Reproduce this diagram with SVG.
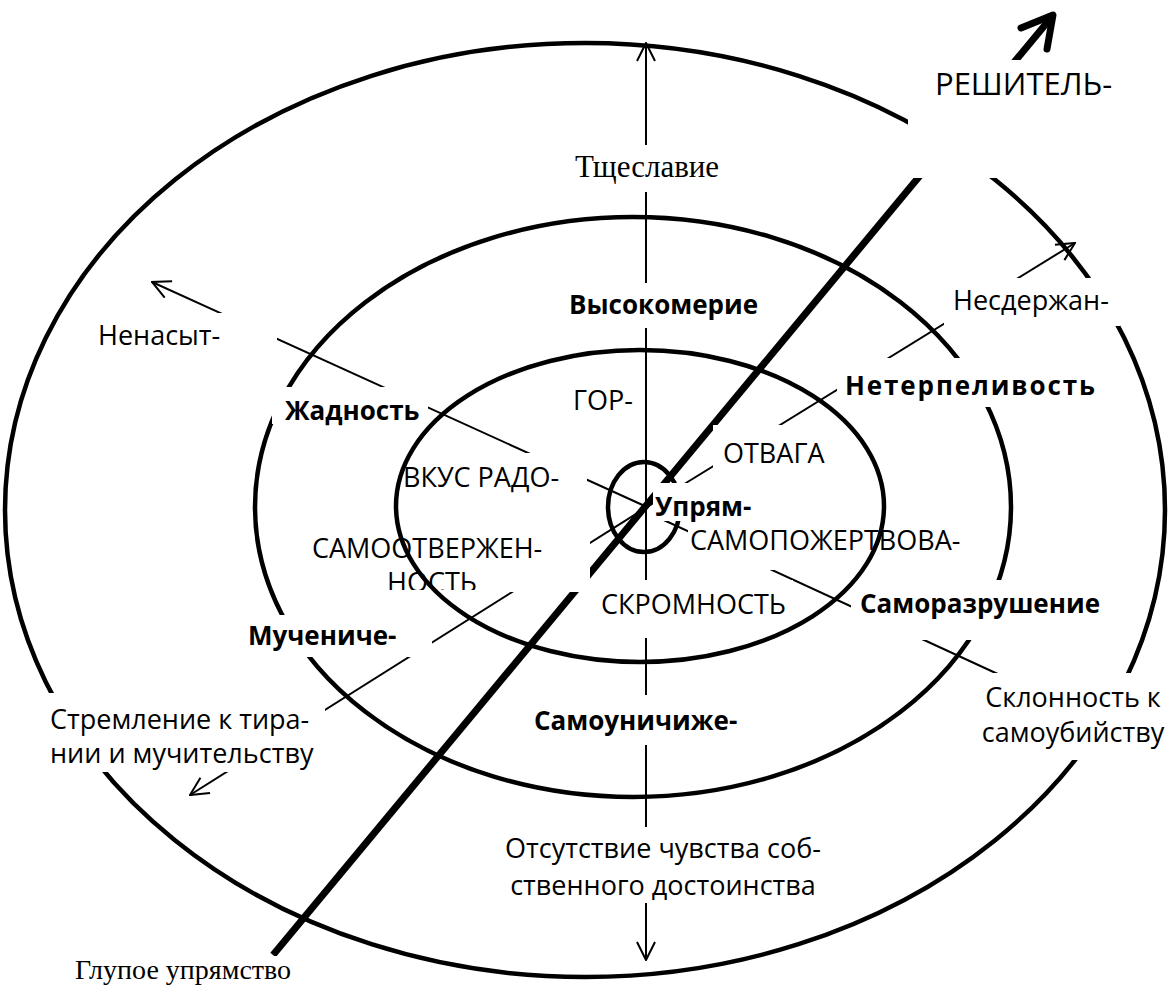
<svg xmlns="http://www.w3.org/2000/svg" width="1173" height="994" viewBox="0 0 1173 994">
<style>
.ring{fill:none;stroke:#000;stroke-width:4.5}
.thin{fill:none;stroke:#000;stroke-width:2}
.bx{fill:#fff;stroke:none}
.s{font-family:"Open Sans","Noto Sans","Liberation Sans",sans-serif;font-size:27px;fill:#000}
.b{font-family:"Open Sans","Noto Sans","Liberation Sans",sans-serif;font-size:26px;font-weight:bold;fill:#000}
.r{font-family:"Liberation Serif","Times New Roman",serif;font-size:30px;fill:#000}
</style>
<defs>
<marker id="arr" markerUnits="userSpaceOnUse" viewBox="0 0 20 20" markerWidth="20" markerHeight="20" refX="19" refY="10" orient="auto-start-reverse"><path d="M1,1 L19,10 L1,19" fill="none" stroke="#000" stroke-width="2"/></marker>
<clipPath id="clipSam"><rect x="300" y="530" width="290" height="60"/></clipPath>
</defs>
<rect width="1173" height="994" fill="#fff"/>
<g id="rings">
<ellipse class="ring" cx="585" cy="510" rx="580" ry="467"/>
<ellipse class="ring" cx="633" cy="507" rx="378" ry="290"/>
</g>
<g id="connectors">
<line class="thin" x1="646" y1="960" x2="646" y2="43" marker-start="url(#arr)" marker-end="url(#arr)"/>
<line class="thin" x1="647" y1="507" x2="152" y2="282" marker-end="url(#arr)"/>
<line class="thin" x1="647" y1="507" x2="1075" y2="243" marker-end="url(#arr)"/>
<line class="thin" x1="647" y1="507" x2="190" y2="795" marker-end="url(#arr)"/>
<line class="thin" x1="655" y1="516" x2="1000" y2="675"/>
<line x1="273" y1="955" x2="1050" y2="19" stroke="#000" stroke-width="7"/>
<path d="M1021,28 L1053,15 L1047,49" fill="none" stroke="#000" stroke-width="7" stroke-linecap="round" stroke-linejoin="round"/>
<ellipse class="ring" cx="644" cy="507" rx="36" ry="45"/>
</g>
<g id="n-reshit"><rect class="bx" x="908" y="60" width="227" height="118"/><text class="s" x="935" y="95" style="font-size:31px">РЕШИТЕЛЬ-</text></g>
<g id="n-tshcheslavie"><rect class="bx" x="568" y="145" width="162" height="47"/><text class="r" x="575" y="177" style="font-size:31px">Тщеславие</text></g>
<g id="n-vysokomerie"><rect class="bx" x="562" y="283" width="205" height="45"/><text class="b" x="569" y="314">Высокомерие</text></g>
<g id="n-nesderzhan"><rect class="bx" x="944" y="278" width="176" height="48"/><text class="s" x="953" y="310">Несдержан-</text></g>
<g id="n-nenasyt"><rect class="bx" x="90" y="313" width="187" height="50"/><text class="s" x="98" y="345">Ненасыт-</text></g>
<g id="n-neterp"><rect class="bx" x="837" y="358" width="265" height="49"/><text class="b" x="845" y="395" textLength="250" lengthAdjust="spacing">Нетерпеливость</text></g>
<g id="n-gor"><rect class="bx" x="562" y="378" width="80" height="48"/><text class="s" x="573" y="410">ГОР-</text></g>
<g id="n-zhadnost"><rect class="bx" x="272" y="387" width="156" height="37"/><text class="b" x="285" y="420">Жадность</text></g>
<g id="n-otvaga"><rect class="bx" x="713" y="425" width="122" height="48"/><text class="s" x="723" y="463">ОТВАГА</text></g>
<g id="n-vkus"><rect class="bx" x="400" y="453" width="187" height="45"/><text class="s" x="403" y="487">ВКУС РАДО-</text></g>
<g id="n-upryam"><rect class="bx" x="653" y="483" width="100" height="38"/><text class="b" x="655" y="516">Упрям-</text></g>
<g id="n-samopozh"><rect class="bx" x="688" y="523" width="290" height="47"/><text class="s" x="690" y="550">САМОПОЖЕРТВОВА-</text></g>
<g id="n-samootv"><rect class="bx" x="300" y="530" width="290" height="62"/><g clip-path="url(#clipSam)"><text class="s" x="312" y="558">САМООТВЕРЖЕН-</text><text class="s" x="387" y="592">НОСТЬ</text></g></g>
<g id="n-skromnost"><rect class="bx" x="598" y="580" width="195" height="58"/><text class="s" x="601" y="614">СКРОМНОСТЬ</text></g>
<g id="n-samorazr"><rect class="bx" x="851" y="580" width="260" height="60"/><text class="b" x="860" y="613">Саморазрушение</text></g>
<g id="n-muchen"><rect class="bx" x="245" y="615" width="187" height="42"/><text class="b" x="248" y="645">Мучениче-</text></g>
<g id="n-samounich"><rect class="bx" x="528" y="695" width="212" height="50"/><text class="b" x="534" y="730">Самоуничиже-</text></g>
<g id="n-sklonnost"><rect class="bx" x="975" y="673" width="198" height="87"/><text class="s" text-anchor="middle" x="1073" y="707">Склонность к</text><text class="s" text-anchor="middle" x="1073" y="742">самоубийству</text></g>
<g id="n-stremlenie"><rect class="bx" x="40" y="693" width="285" height="79"/><text class="s" x="50" y="729">Стремление к тира-</text><text class="s" x="50" y="763">нии и мучительству</text></g>
<g id="n-otsutstvie"><rect class="bx" x="500" y="827" width="325" height="76"/><text class="s" text-anchor="middle" x="663" y="858">Отсутствие чувства соб-</text><text class="s" text-anchor="middle" x="663" y="895">ственного достоинства</text></g>
<g id="n-glupoe"><rect class="bx" x="70" y="956" width="225" height="38"/><text class="r" x="75" y="979" style="font-size:28px">Глупое упрямство</text></g>
<g id="inner-ring"><ellipse class="ring" cx="640" cy="506" rx="244" ry="156"/></g>
</svg>
